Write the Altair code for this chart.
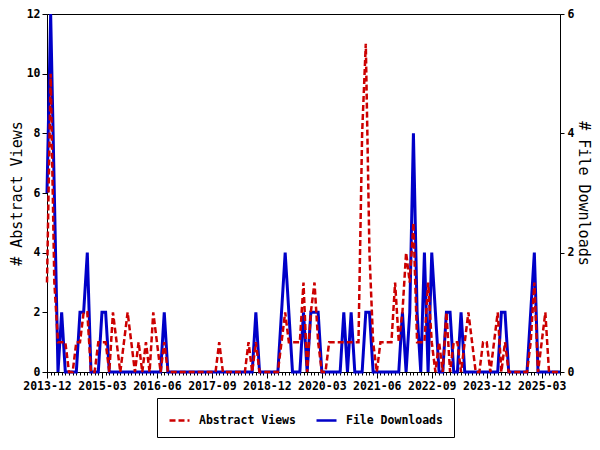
import altair as alt
import pandas as pd

# Monthly series, 2013-12 .. 2025-08
months = pd.date_range("2013-12-01", periods=141, freq="MS").strftime("%Y-%m").tolist()

views = [3, 10, 3, 1, 1, 1, 0, 0, 1, 1, 2, 2, 0, 0, 1, 1, 1, 0, 2, 1,
         0, 1, 2, 1, 0, 1, 0, 1, 0, 2, 1, 0, 1, 0, 0, 0, 0, 0, 0, 0,
         0, 0, 0, 0, 0, 0, 0, 1, 0, 0, 0, 0, 0, 0, 0, 1, 0, 1, 0, 0,
         0, 0, 0, 0, 1, 2, 1, 1, 1, 1, 3, 0, 2, 3, 1, 0, 0, 1, 1, 1,
         1, 1, 1, 1, 1, 1, 8, 11, 4, 1, 0, 1, 1, 1, 1, 3, 1, 2, 4, 3,
         5, 1, 1, 1, 3, 1, 0, 1, 0, 2, 0, 1, 1, 0, 1, 2, 1, 0, 0, 1,
         1, 0, 1, 2, 0, 1, 0, 0, 0, 0, 0, 0, 1, 3, 0, 1, 2, 0, 0, 0,
         0]

downloads = [3, 6, 3, 0, 1, 0, 0, 0, 0, 1, 1, 2, 0, 0, 0, 1, 1, 0, 0, 0,
             0, 0, 0, 0, 0, 0, 0, 0, 0, 0, 0, 0, 1, 0, 0, 0, 0, 0, 0, 0,
             0, 0, 0, 0, 0, 0, 0, 0, 0, 0, 0, 0, 0, 0, 0, 0, 0, 1, 0, 0,
             0, 0, 0, 0, 1, 2, 1, 0, 0, 0, 1, 0, 1, 1, 1, 0, 0, 0, 0, 0,
             0, 1, 0, 1, 0, 0, 0, 1, 1, 0, 0, 0, 0, 0, 0, 0, 0, 1, 0, 1,
             4, 1, 0, 2, 0, 2, 1, 0, 0, 1, 1, 0, 0, 1, 0, 0, 0, 0, 0, 0,
             0, 0, 0, 0, 1, 1, 0, 0, 0, 0, 0, 0, 1, 2, 0, 0, 0, 0, 0, 0,
             0]

tick_labels = ["2013-12", "2015-03", "2016-06", "2017-09", "2018-12",
               "2020-03", "2021-06", "2022-09", "2023-12", "2025-03"]
series_names = ["Abstract Views", "File Downloads"]
series_colors = ["#cc0000", "#0000c8"]

df = pd.DataFrame({"i": list(range(len(months))), "month": months,
                   "views": views, "downloads": downloads})

FONT = "DejaVu Sans Mono"
n = len(months)
major_vals = [k * 15 for k in range(len(tick_labels))]
label_expr = "[" + ",".join("'%s'" % t for t in tick_labels) + "][round(datum.value/15)]"


def make_legend():
    return alt.Legend(orient="none", legendX=110, legendY=384,
                      direction="horizontal", title=None,
                      strokeColor="black", padding=11,
                      symbolType="stroke", symbolSize=400,
                      symbolStrokeWidth=2.5, labelFont=FONT,
                      labelFontSize=11.5, labelFontWeight="bold",
                      labelColor="black", columnPadding=15,
                      labelOffset=8)


xscale = alt.Scale(domain=[0, n - 1], nice=False, zero=False)
color = alt.Color("series:N", scale=alt.Scale(domain=series_names, range=series_colors),
                  legend=make_legend())
dash = alt.StrokeDash("series:N", scale=alt.Scale(domain=series_names, range=[[6, 3], [1, 0]]),
                      legend=make_legend())

dl = alt.Chart(df).transform_calculate(series="'File Downloads'").mark_line(
    strokeWidth=3).encode(
    x=alt.X("i:Q", scale=xscale,
            axis=alt.Axis(orient="bottom", values=list(range(n)), labels=False,
                          tickSize=3, tickColor="black", domainColor="black",
                          grid=False, title=None)),
    y=alt.Y("downloads:Q", scale=alt.Scale(domain=[0, 6], nice=False),
            axis=alt.Axis(orient="right", values=[0, 2, 4, 6], tickSize=4,
                          labelPadding=3, labelFont=FONT, labelFontSize=11.5,
                          labelFontWeight="bold", labelColor="black",
                          tickColor="black", domainColor="black", grid=False,
                          title="# File Downloads", titleFont=FONT,
                          titleFontSize=15, titleFontWeight="normal",
                          titleColor="black", titlePadding=2)),
    color=color, strokeDash=dash,
)

vw = alt.Chart(df).transform_calculate(series="'Abstract Views'").mark_line(
    strokeWidth=2.5).encode(
    x=alt.X("i:Q", scale=xscale,
            axis=alt.Axis(orient="bottom", values=major_vals, labelExpr=label_expr,
                          tickSize=6, labelPadding=2, labelFont=FONT,
                          labelFontSize=11.5, labelFontWeight="bold",
                          labelColor="black", tickColor="black",
                          domainColor="black", grid=False, title=None,
                          labelOverlap=False, labelFlush=False)),
    y=alt.Y("views:Q", scale=alt.Scale(domain=[0, 12], nice=False),
            axis=alt.Axis(orient="left", values=[0, 2, 4, 6, 8, 10, 12], tickSize=5,
                          labelPadding=2, labelFont=FONT, labelFontSize=11.5,
                          labelFontWeight="bold", labelColor="black",
                          tickColor="black", domainColor="black", grid=False,
                          title="# Abstract Views", titleFont=FONT,
                          titleFontSize=15, titleFontWeight="normal",
                          titleColor="black", titlePadding=2)),
    color=color, strokeDash=dash,
)

chart = alt.layer(dl, vw).resolve_scale(y="independent").resolve_axis(
    x="independent", y="independent").properties(
    width=513, height=358,
    autosize=alt.AutoSizeParams(type="none"),
    padding={"left": 39, "top": 6, "right": 32, "bottom": 70},
    background="white",
).configure_view(stroke="black", strokeWidth=1)

chart.save("out.html", embed_options={"renderer": "svg", "actions": False})
